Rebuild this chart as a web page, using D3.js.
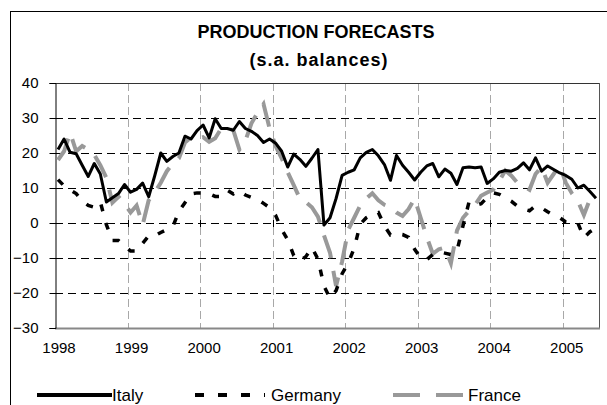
<!DOCTYPE html>
<html>
<head>
<meta charset="utf-8">
<script src="https://cdn.jsdelivr.net/npm/d3@7"></script>
<style>
  body { margin: 0; background: #fff; }
  text { font-family: "Liberation Sans", Arial, sans-serif; fill: #000; }
</style>
</head>
<body>
<svg id="chart" width="607" height="405"></svg>
<script>
var yearLabels = ["1998", "1999", "2000", "2001", "2002", "2003", "2004", "2005"];
var yTicks = [-30, -20, -10, 0, 10, 20, 30, 40];
var seriesNames = ["Italy", "Germany", "France"];

// monthly, Jan 1998 - Jun 2005
var italy = [21, 24, 20.2, 19.8, 16.5, 13.3, 17, 14, 6, 7.2, 8.4, 11,
  8.8, 9.6, 11.4, 7.5, 13.5, 20, 17.6, 19, 20, 24.8, 24, 26.4,
  28, 24.3, 29.8, 27, 27, 26.5, 29, 27, 26.2, 25, 23, 24,
  22.8, 20.5, 16, 19.7, 18.2, 16.2, 18.5, 21, -0.6, 1.5, 7, 13.6,
  14.5, 15.2, 18.6, 20.2, 21, 19.2, 16.7, 12.2, 19.3, 16.5, 14.5, 12.3,
  14.5, 16.3, 17, 13.2, 15.4, 14.2, 11, 15.8, 16, 15.8, 16, 11.3,
  12.6, 14.5, 15, 14.8, 15.6, 17.2, 15.2, 18.6, 14.8, 16.3, 15.3, 14.3,
  13.6, 12.5, 10, 10.8, 9, 7.1];
var germany = [12.4, 10.6, 9.5, 8.4, 6.3, 5, 4.5, 6, -0.5, -5, -5, -6.5,
  -8, -8, -5.8, -3.7, -3.7, -2.7, -1.9, -1, 3.3, 5.8, 8.3, 8.6,
  8.6, 8.4, 7.6, 7.6, 9.4, 8.3, 9.2, 8, 7.3, 6.8, 5.6, 4.4,
  2.2, -1.8, -4.8, -9.3, -10.8, -9.6, -7, -10.3, -18, -21.5, -19.3, -14.5,
  -11.5, -7.2, -0.3, 1.5, 2.5, 3, -0.8, -3.4, -3, -3.3, -4.1, -7.5,
  -10, -10.5, -9, -8.2, -8.6, -9, -8, -0.8, 6, 5, 5.5, 7.3,
  8.6, 8.2, 7.2, 6.2, 4.8, 4, 3.5, 4.9, 4.3, 3.2, 2.2, 1.5,
  0.3, 0, 0, -4.2, -2.5, -1.5];
var france = [18, 20.5, 25.8, 20.5, 22, 21, 19.5, 16.5, 12.9, 5.8, 7.5, 5.5,
  3, 5, -0.5, 6.5, 8.7, 11.5, 14.8, 17, 18.5, 23, 24.5, 24,
  24.5, 23.2, 24.2, 27, 27.2, 26.5, 21, 23.5, 28.5, 31.5, 34, 27,
  22, 18.5, 14.5, 10.8, 7, 6, 4.5, 1.8, -3.5, -8.5, -18, -11,
  -2, 1.5, 5, 7, 8.5, 6.5, 5.2, 4.5, 3, 2, 4, 7,
  1.5, -4, -8.8, -7.5, -7, -11.5, -2.2, 1.5, 3.5, 5.2, 7.8, 8.7,
  9.5, 12, 15, 13.5, 11.5, 10.5, 9.5, 14, 16, 11.5, 14, 16.5,
  11.5, 8.5, 6.3, 2.3, 6.8, 8];

var categories = [];
yearLabels.forEach(function (yr) {
  for (var m = 1; m <= 12; m++) {
    if (categories.length < italy.length) categories.push(yr + "-" + m);
  }
});

var svg = d3.select("#chart");
var plotL = 55, plotR = 599, plotT = 83, plotB = 328;

var x = d3.scaleBand().domain(categories).range([plotL, plotR]);
var y = d3.scaleLinear().domain([-30, 40]).range([plotB, plotT]);
var cx = function (i) { return x(categories[i]) + x.bandwidth() / 2; };

// outer frame
svg.append("rect")
  .attr("x", 10.5).attr("y", 11.5)
  .attr("width", 640).attr("height", 420)
  .attr("fill", "none").attr("stroke", "#000").attr("stroke-width", 1);

// title
svg.append("text")
  .attr("x", 316).attr("y", 38)
  .attr("text-anchor", "middle")
  .style("font-size", "18px").style("font-weight", "bold")
  .text("PRODUCTION FORECASTS");
svg.append("text")
  .attr("x", 319).attr("y", 66)
  .attr("text-anchor", "middle")
  .style("font-size", "18px").style("font-weight", "bold")
  .style("letter-spacing", "1px")
  .text("(s.a. balances)");

// vertical grid (year boundaries)
var yearStarts = d3.range(1, yearLabels.length).map(function (k) { return categories[k * 12]; });
svg.append("g").selectAll("line")
  .data(yearStarts)
  .join("line")
    .attr("x1", function (d) { return Math.round(x(d)) + 0.5; })
    .attr("x2", function (d) { return Math.round(x(d)) + 0.5; })
    .attr("y1", plotT).attr("y2", plotB)
    .attr("stroke", "#a8a8a8")
    .attr("stroke-dasharray", "8,4");

// horizontal grid
svg.append("g").selectAll("line")
  .data(yTicks.filter(function (d) { return d > -30 && d < 40; }))
  .join("line")
    .attr("x1", plotL).attr("x2", plotR)
    .attr("y1", function (d) { return Math.round(y(d)) + 0.5; })
    .attr("y2", function (d) { return Math.round(y(d)) + 0.5; })
    .attr("stroke", "#000")
    .attr("stroke-dasharray", "8,5");

// plot border
svg.append("line").attr("x1", plotL).attr("x2", plotR).attr("y1", plotT + 0.5).attr("y2", plotT + 0.5)
  .attr("stroke", "#333");
svg.append("line").attr("x1", plotR + 0.5).attr("x2", plotR + 0.5).attr("y1", plotT).attr("y2", plotB)
  .attr("stroke", "#555");
svg.append("line").attr("x1", plotL).attr("x2", plotR + 1).attr("y1", plotB + 0.5).attr("y2", plotB + 0.5)
  .attr("stroke", "#888").attr("stroke-width", 2);

// x tick marks crossing the zero line
svg.append("g").selectAll("line")
  .data(yearStarts)
  .join("line")
    .attr("x1", function (d) { return Math.round(x(d)) + 0.5; })
    .attr("x2", function (d) { return Math.round(x(d)) + 0.5; })
    .attr("y1", y(0) - 3).attr("y2", y(0) + 4)
    .attr("stroke", "#000");

// y axis
var yAxis = svg.append("g")
  .attr("transform", "translate(" + (plotL + 0.5) + ",0)")
  .call(d3.axisLeft(y).tickValues(yTicks).tickSize(6).tickPadding(11).tickFormat(d3.format("d")));
yAxis.select(".domain").attr("stroke", "#000");
yAxis.selectAll("line").attr("stroke", "#000");
yAxis.selectAll("text")
  .style("font-family", '"Liberation Sans", Arial, sans-serif')
  .style("font-size", "15px").attr("fill", "#000");

// x labels
svg.append("g").selectAll("text")
  .data(yearLabels)
  .join("text")
    .attr("x", function (d, k) { return cx(k * 12) + 1; })
    .attr("y", 353)
    .attr("text-anchor", "middle")
    .style("font-size", "15px")
    .text(function (d) { return d; });

// series
var line = d3.line()
  .x(function (d, i) { return cx(i); })
  .y(function (d) { return y(d); });

svg.append("path").datum(france)
  .attr("d", line).attr("fill", "none")
  .attr("stroke", "#999").attr("stroke-width", 4)
  .attr("stroke-dasharray", "24,13");
svg.append("path").datum(germany)
  .attr("d", line).attr("fill", "none")
  .attr("stroke", "#000").attr("stroke-width", 3.5)
  .attr("stroke-dasharray", "7,12");
svg.append("path").datum(italy)
  .attr("d", line).attr("fill", "none")
  .attr("stroke", "#000").attr("stroke-width", 3)
  .attr("stroke-linejoin", "round");

// legend
var legend = [
  { name: seriesNames[0], x1: 37, x2: 112, color: "#000", w: 4, dash: null, tx: 112 },
  { name: seriesNames[1], x1: 195, x2: 265, color: "#000", w: 4, dash: "9,14", tx: 271 },
  { name: seriesNames[2], x1: 393, x2: 463, color: "#999", w: 4, dash: "27,16", tx: 468 }
];
var lg = svg.append("g").selectAll("g").data(legend).join("g");
lg.append("line")
  .attr("x1", function (d) { return d.x1; })
  .attr("x2", function (d) { return d.x2; })
  .attr("y1", 395).attr("y2", 395)
  .attr("stroke", function (d) { return d.color; })
  .attr("stroke-width", function (d) { return d.w; })
  .attr("stroke-dasharray", function (d) { return d.dash; });
lg.append("text")
  .attr("x", function (d) { return d.tx; })
  .attr("y", 401)
  .style("font-size", "17px")
  .text(function (d) { return d.name; });
</script>
</body>
</html>
